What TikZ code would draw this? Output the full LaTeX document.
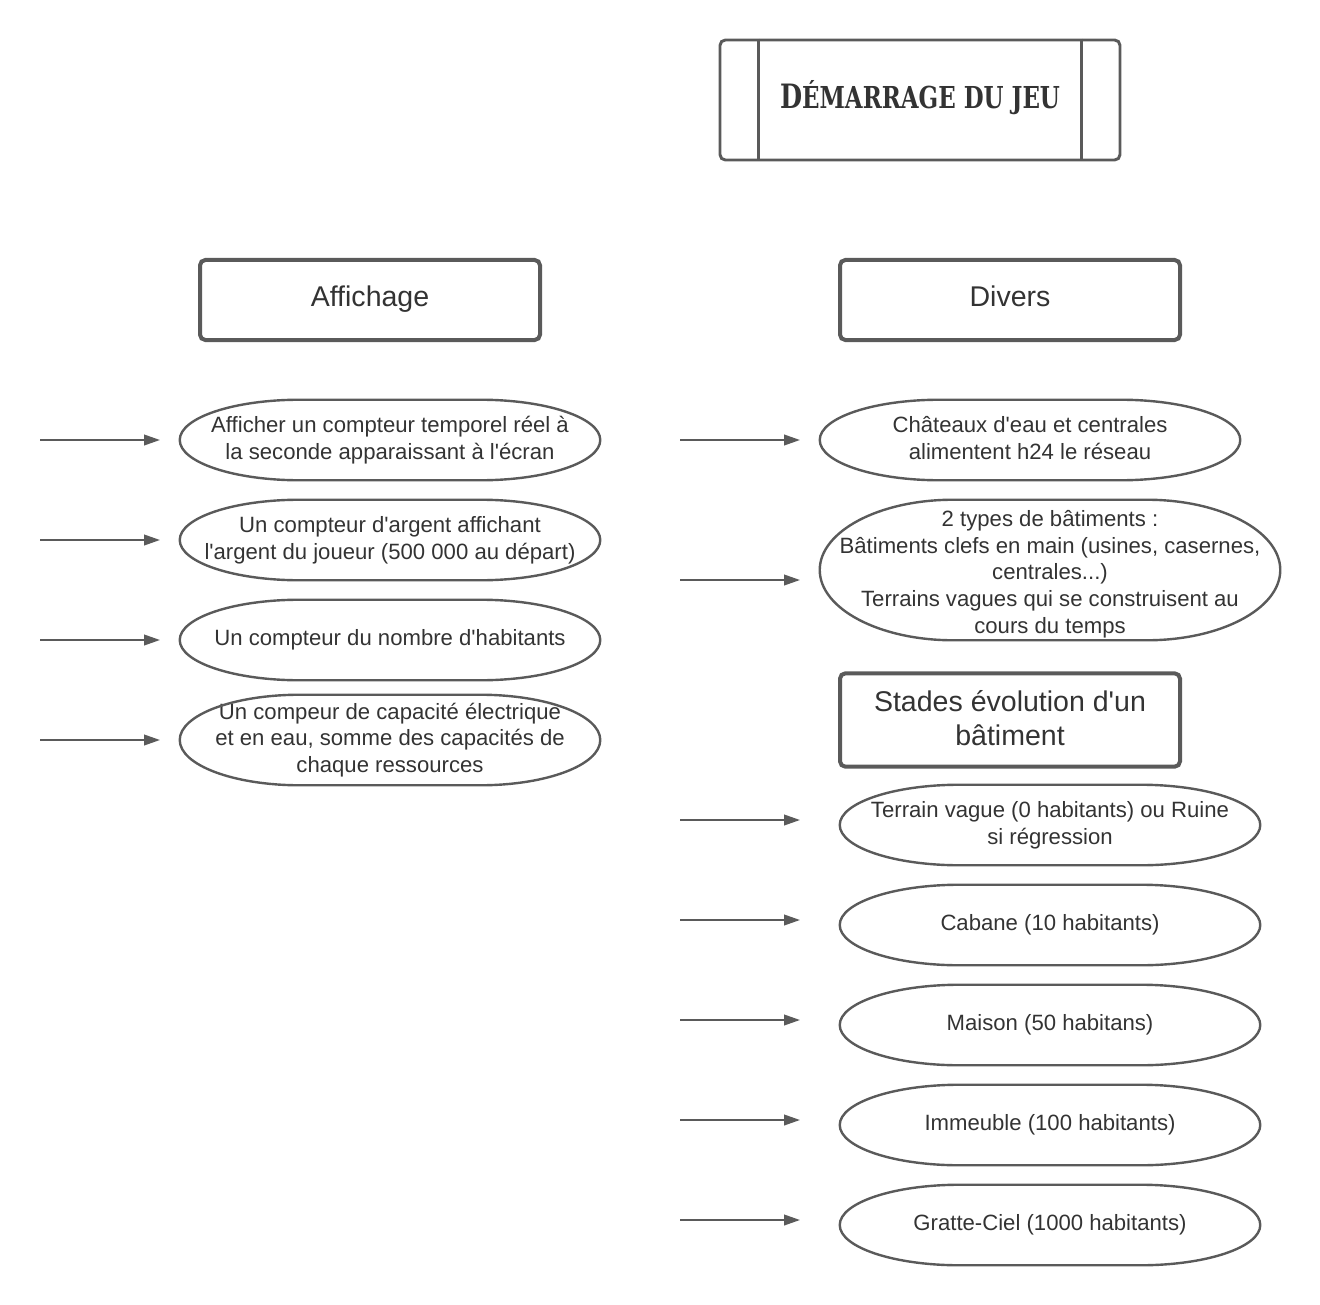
\documentclass[tikz,border=0pt]{standalone}
\usepackage{fontspec}
\usepackage{graphicx}
\setmainfont{Liberation Sans}[Ligatures=TeXOff]
\newfontfamily\titlefont{DejaVu Serif}
\usetikzlibrary{calc,arrows.meta}
\definecolor{linegrey}{HTML}{5A5A5A}
\definecolor{textgrey}{HTML}{333333}
\tikzset{
  oval/.style={rectangle, minimum width=315pt, minimum height=60pt, inner sep=0pt,
    align=center, text=textgrey, font=\fontsize{16.6}{20}\selectfont},
  ovalline/.style={draw=linegrey, line width=1.8pt},
  hdrbox/.style={rectangle, rounded corners=4pt, draw=linegrey, line width=3pt, minimum width=255pt, minimum height=60pt},
  hdrtext/.style={align=center, text=textgrey, inner sep=0pt, font=\fontsize{21.4}{26}\selectfont},
  arr/.style={draw=linegrey, line width=1.4pt, -{Triangle[length=12pt,width=8pt]}},
}
% outline of a flattened oval around node #1, end radius #2
\newcommand\ovaldraw[2]{%
  \draw[ovalline] let \p1=($(#1.north east)-(#1.south west)$), \n1={\y1/2} in
    (#1.west) arc[start angle=180,end angle=90,x radius=#2,y radius=\n1]
    -- ([xshift=-#2]#1.north east) arc[start angle=90,end angle=-90,x radius=#2,y radius=\n1]
    -- ([xshift=#2]#1.south west) arc[start angle=270,end angle=180,x radius=#2,y radius=\n1] -- cycle;}
\begin{document}
\begin{tikzpicture}[x=0.75pt,y=-0.75pt]
\useasboundingbox (0,0) rectangle (1320,1305);
% title
\node[rectangle, rounded corners=4pt, draw=linegrey, line width=2.2pt, minimum width=300pt, minimum height=90pt] (title) at (920,100) {};
\draw[draw=linegrey, line width=2.2pt] (title.north west) ++(30pt,0) -- ++(0,-90pt);
\draw[draw=linegrey, line width=2.2pt] (title.north east) ++(-30pt,0) -- ++(0,-90pt);
\node[text=textgrey, inner sep=0pt] (titletext) at (920,98) {\resizebox{210pt}{21pt}{\titlefont\bfseries D{\small ÉMARRAGE DU JEU}}};
% headers
\node[hdrbox] (aff) at (370,300) {};
\node[hdrtext, anchor=base] (afft) at (370,306) {Affichage};
\node[hdrbox] (div) at (1010,300) {};
\node[hdrtext, anchor=base] (divt) at (1010,306) {Divers};
\node[hdrbox, minimum height=70pt] (stades) at (1010,720) {};
\node[hdrtext] (stadest) at (1010,718) {Stades évolution d'un\\bâtiment};
% left ovals
\node[oval] (l1) at (390,440) {Afficher un compteur temporel réel à\\la seconde apparaissant à l'écran};
\node[oval] (l2) at (390,540) {Un compteur d'argent affichant\\l'argent du joueur (500 000 au départ)};
\node[oval] (l3) at (390,640) {Un compteur du nombre d'habitants};
\node[oval, minimum height=67.5pt] (l4) at (390,740) {Un compeur de capacité électrique\\et en eau, somme des capacités de\\chaque ressources};
% right ovals
\node[oval] (r1) at (1030,440) {Châteaux d'eau et centrales\\alimentent h24 le réseau\vphantom{p}};
\node[oval, minimum width=345pt, minimum height=105pt] (r2) at (1050,570) {\rule{0pt}{18pt}2 types de bâtiments :\\Bâtiments clefs en main (usines, casernes,\\centrales...)\\Terrains vagues qui se construisent au\\cours du temps};
\node[oval] (s1) at (1050,825) {Terrain vague (0 habitants) ou Ruine\\si régression};
\node[oval] (s2) at (1050,925) {Cabane (10 habitants)};
\node[oval] (s3) at (1050,1025) {Maison (50 habitans)};
\node[oval] (s4) at (1050,1125) {Immeuble (100 habitants)};
\node[oval] (s5) at (1050,1225) {Gratte-Ciel (1000 habitants)};
\foreach \nd in {l1,l2,l3,l4,r1,s1,s2,s3,s4,s5}{\ovaldraw{\nd}{90pt}}
\ovaldraw{r2}{100pt}
% arrows
\foreach \nd/\yy in {a1/440,a2/540,a3/640,a4/740}{
  \coordinate (\nd s) at (40,\yy); \coordinate (\nd e) at (160,\yy);
  \draw[arr] (\nd s) -- (\nd e);
}
\foreach \nd/\yy in {b1/440,b2/580,b3/820,b4/920,b5/1020,b6/1120,b7/1220}{
  \coordinate (\nd s) at (680,\yy); \coordinate (\nd e) at (800,\yy);
  \draw[arr] (\nd s) -- (\nd e);
}
\end{tikzpicture}
\end{document}
